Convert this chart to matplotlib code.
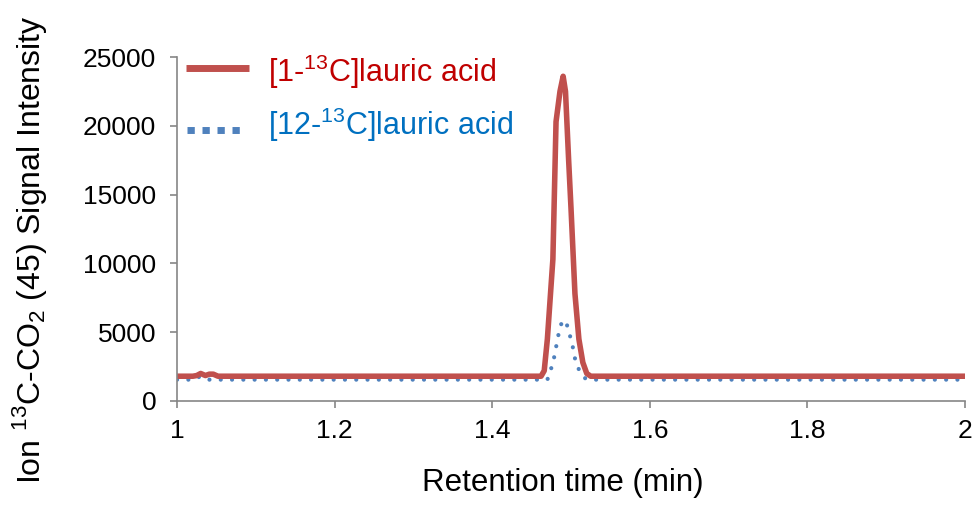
import matplotlib
matplotlib.use('Agg')
import matplotlib.pyplot as plt
from matplotlib.lines import Line2D

plt.rcParams['font.family'] = ['Liberation Sans', 'DejaVu Sans']

# [1-13C]lauric acid trace
t_red = [1.0, 1.02, 1.025, 1.03, 1.036, 1.041, 1.046, 1.052, 1.06,
         1.462, 1.466, 1.470, 1.477, 1.481, 1.486, 1.490, 1.493, 1.497,
         1.500, 1.505, 1.510, 1.515, 1.520, 1.525, 2.0]
y_red = [1800, 1800, 1850, 2000, 1850, 1950, 1950, 1800, 1800,
         1800, 2200, 4500, 10300, 20300, 22500, 23600, 22500, 17500,
         14000, 7800, 4500, 2800, 2000, 1800, 1800]

# [12-13C]lauric acid trace
t_blue = [1.0, 1.022, 1.028, 1.034, 1.04, 1.470, 1.474, 1.478, 1.482,
          1.485, 1.489, 1.494, 1.498, 1.502, 1.505, 1.509, 1.514, 1.518,
          1.522, 2.0]
y_blue = [1550, 1550, 1750, 1550, 1550, 1550, 2200, 3000, 4200,
          5100, 5850, 5700, 4900, 4000, 3100, 2400, 1900, 1650,
          1550, 1550]

x_ticks = [1, 1.2, 1.4, 1.6, 1.8, 2]
x_labels = ['1', '1.2', '1.4', '1.6', '1.8', '2']
y_ticks = [0, 5000, 10000, 15000, 20000, 25000]

labels = ['[1-$^{\\mathregular{13}}$C]lauric acid',
          '[12-$^{\\mathregular{13}}$C]lauric acid']

red = '#C0504D'
blue = '#4F81BD'

W, H = 976, 509
fig = plt.figure(figsize=(9.76, 5.09), dpi=100)
ax = fig.add_axes([0.1814, 0.2122, 0.8073, 0.6758])

ax.plot(t_blue, y_blue, color=blue, linewidth=3.0,
        linestyle=(0, (0.01, 2.7)), dash_capstyle='round')
ax.plot(t_red, y_red, color=red, linewidth=4.0, solid_joinstyle='round')

ax.set_xlim(1, 2)
ax.set_ylim(0, 25000)
ax.set_xticks(x_ticks)
ax.set_xticklabels(x_labels)
ax.set_yticks(y_ticks)

for s in ['top', 'right']:
    ax.spines[s].set_visible(False)
for s in ['left', 'bottom']:
    ax.spines[s].set_color('#868686')
    ax.spines[s].set_linewidth(1.2)

ax.tick_params(axis='both', labelsize=19, color='#868686', length=5,
               width=1.2, direction='out')
ax.tick_params(axis='x', pad=8)
ax.tick_params(axis='y', pad=10)

fig.text(563 / W, 1 - 483 / H, 'Retention time (min)', fontsize=22.5,
         ha='center', va='center')
fig.text(30 / W, 1 - 250 / H,
         'Ion $^{\\mathregular{13}}$C-CO$_{\\mathregular{2}}$ (45) Signal Intensity',
         fontsize=23, rotation=90, ha='center', va='center')

# legend drawn by hand (Excel-style placement)
fig.add_artist(Line2D([186 / W, 249 / W], [1 - 67.5 / H] * 2,
                      transform=fig.transFigure, color=red, linewidth=5.0,
                      solid_capstyle='butt'))
fig.add_artist(Line2D([186.5 / W, 241 / W], [1 - 130 / H] * 2,
                      transform=fig.transFigure, color=blue, linewidth=5.0,
                      linestyle=(0, (1.05, 1.11)), dash_capstyle='butt'))
fig.text(268 / W, 1 - 82 / H, labels[0], fontsize=22, color='#C00000',
         ha='left', va='baseline')
fig.text(268 / W, 1 - 135 / H, labels[1], fontsize=22, color='#0070C0',
         ha='left', va='baseline')

fig.savefig('out.png', dpi=100)
